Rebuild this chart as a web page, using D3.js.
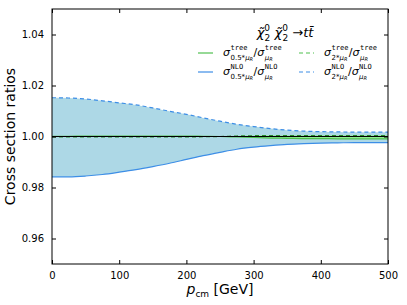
<!DOCTYPE html>
<html>
<head>
<meta charset="utf-8">
<script src="https://cdn.jsdelivr.net/npm/d3@7"></script>
<style>
  body { margin: 0; background: #fff; }
  text { font-family: "DejaVu Sans", sans-serif; }
</style>
</head>
<body>
<script>
// data
let pcm = [0, 25, 50, 75, 100, 125, 150, 175, 200, 225, 250, 275, 300, 325, 350, 375, 400, 425, 450, 475, 500];
let nloHalf = [0.9842, 0.9842, 0.9845, 0.9851, 0.9860, 0.9870, 0.9882, 0.9895, 0.9910, 0.9925, 0.9938, 0.9950, 0.9958, 0.9964, 0.9969, 0.9972, 0.9974, 0.9975, 0.9976, 0.9976, 0.9976];
let nloTwo = [1.0152, 1.0151, 1.0147, 1.0140, 1.0132, 1.0124, 1.0112, 1.0099, 1.0087, 1.0073, 1.0060, 1.0048, 1.0039, 1.0031, 1.0025, 1.0021, 1.0019, 1.0018, 1.0017, 1.0017, 1.0017];
let treeHalf = [1.0001, 1.0001, 1.0002, 1.0002, 1.0002, 1.0002, 1.0002, 1.0002, 1.0002, 1.0001, 1.0000, 0.9998, 0.9996, 0.9994, 0.9993, 0.9992, 0.9992, 0.9991, 0.9991, 0.9991, 0.9991];
let treeTwo = [0.9998, 0.9998, 0.9998, 0.9998, 0.9998, 0.9998, 0.9998, 0.9998, 0.9998, 0.9999, 1.0000, 1.0002, 1.0003, 1.0004, 1.0004, 1.0004, 1.0004, 1.0004, 1.0004, 1.0004, 1.0004];
let xTicks = [0, 100, 200, 300, 400, 500];
let yTicks = [0.96, 0.98, 1.00, 1.02, 1.04];

let W = 407, H = 305;
let margin = {top: 9, right: 19, bottom: 41, left: 52};
let width = W - margin.left - margin.right,
    height = H - margin.top - margin.bottom;

let green = "#4fbf4f", blue = "#3d8ee6";

let x = d3.scaleLinear().domain([0, 500]).range([0, width]);
let y = d3.scaleLinear().domain([0.95, 1.05]).range([height, 0]);

let svg = d3.select("body").append("svg")
  .attr("width", W)
  .attr("height", H)
.append("g")
  .attr("transform", "translate(" + margin.left + "," + margin.top + ")");

let rows = pcm.map((p, i) => ({p: p, lo: nloHalf[i], hi: nloTwo[i], th: treeHalf[i], tt: treeTwo[i]}));

// bands
let nloArea = d3.area().x(d => x(d.p)).y0(d => y(d.lo)).y1(d => y(d.hi)).curve(d3.curveMonotoneX);
let treeArea = d3.area().x(d => x(d.p)).y0(d => y(d.th)).y1(d => y(d.tt)).curve(d3.curveMonotoneX);

svg.append("path").datum(rows).attr("d", nloArea).attr("fill", "#add8e6");
svg.append("path").datum(rows).attr("d", treeArea).attr("fill", "#90ee90");

function line(key) {
  return d3.line().x(d => x(d.p)).y(d => y(d[key])).curve(d3.curveMonotoneX);
}

svg.append("path").datum(rows).attr("d", line("lo"))
  .attr("fill", "none").attr("stroke", blue).attr("stroke-width", 1.2);
svg.append("path").datum(rows).attr("d", line("hi"))
  .attr("fill", "none").attr("stroke", blue).attr("stroke-width", 1.2).attr("stroke-dasharray", "4,3");
svg.append("path").datum(rows).attr("d", line("th"))
  .attr("fill", "none").attr("stroke", green).attr("stroke-width", 1.2);
svg.append("path").datum(rows).attr("d", line("tt"))
  .attr("fill", "none").attr("stroke", "#2a8a2a").attr("stroke-width", 1.2).attr("stroke-dasharray", "4,3");

// reference line at 1
svg.append("line")
  .attr("x1", 0).attr("x2", width)
  .attr("y1", y(1)).attr("y2", y(1))
  .attr("stroke", "#000").attr("stroke-width", 1);

// axes, matplotlib classic style: ticks inward on all sides
function styleAxis(g) {
  g.select(".domain").remove();
  g.selectAll("text").attr("font-size", 10).attr("fill", "#000");
  g.selectAll("line").attr("stroke", "#000");
}

svg.append("g")
  .attr("transform", "translate(0," + height + ")")
  .call(d3.axisBottom(x).tickValues(xTicks).tickSizeInner(-4).tickPadding(8))
  .call(styleAxis);
svg.append("g")
  .call(d3.axisTop(x).tickValues(xTicks).tickSizeInner(-4).tickFormat(""))
  .call(styleAxis);
svg.append("g")
  .call(d3.axisLeft(y).tickValues(yTicks).tickSizeInner(-4).tickPadding(8).tickFormat(d3.format(".2f")))
  .call(styleAxis);
svg.append("g")
  .attr("transform", "translate(" + width + ",0)")
  .call(d3.axisRight(y).tickValues(yTicks).tickSizeInner(-4).tickFormat(""))
  .call(styleAxis);

// frame
svg.append("rect")
  .attr("width", width).attr("height", height)
  .attr("fill", "none").attr("stroke", "#000").attr("stroke-width", 1);

// axis labels
svg.append("text")
  .attr("transform", "translate(" + (-37) + "," + (height / 2) + ") rotate(-90)")
  .attr("text-anchor", "middle")
  .attr("font-size", 14)
  .text("Cross section ratios");

let xl = svg.append("text")
  .attr("x", width / 2)
  .attr("y", height + 30)
  .attr("text-anchor", "middle")
  .attr("font-size", 14);
xl.append("tspan").attr("font-style", "italic").text("p");
xl.append("tspan").attr("font-size", 9).attr("dy", 3).text("cm");
xl.append("tspan").attr("dy", -3).text(" [GeV]");

// legend title
let title = svg.append("text")
  .attr("x", 233)
  .attr("y", 28)
  .attr("text-anchor", "middle")
  .attr("font-size", 13);
title.append("tspan").attr("font-style", "italic").text("χ̃");
title.append("tspan").attr("font-size", 9).attr("dy", -6).text("0");
title.append("tspan").attr("font-size", 9).attr("dx", -5.5).attr("dy", 10).text("2");
title.append("tspan").attr("font-style", "italic").attr("dy", -4).text(" χ̃");
title.append("tspan").attr("font-size", 9).attr("dy", -6).text("0");
title.append("tspan").attr("font-size", 9).attr("dx", -5.5).attr("dy", 10).text("2");
title.append("tspan").attr("dy", -4).text(" →");
title.append("tspan").attr("font-style", "italic").text("tt̄");

// σ^sup_sub / σ^sup_sub  label built from stacked pieces
function sigmaLabel(g, x0, y0, sup, sub1, sub2) {
  let cx = x0;
  function piece(txt, dy, size, family, italic) {
    let t = g.append("text").attr("x", cx).attr("y", y0 + dy)
      .attr("font-size", size).text(txt);
    if (family) t.style("font-family", family);
    if (italic) t.attr("font-style", "italic");
    return t.node().getComputedTextLength();
  }
  function sigma(sub) {
    cx += piece("σ", 0, 11, null, true) + 0.5;
    let w1 = piece(sup, -6, 7, "DejaVu Sans Mono", false);
    let t = g.append("text").attr("x", cx).attr("y", y0 + 3.5).attr("font-size", 7);
    sub.forEach(s => {
      let sp = t.append("tspan").text(s.t);
      if (s.it) sp.attr("font-style", "italic");
      if (s.dy) sp.attr("dy", s.dy).attr("font-size", 5);
    });
    let w2 = t.node().getComputedTextLength();
    cx += Math.max(w1, w2) + 0.5;
  }
  sigma(sub1);
  cx += piece("/", 0, 11, null, false);
  sigma(sub2);
}

let subHalf = [{t: "0.5*"}, {t: "μ", it: true}, {t: "R", it: true, dy: 1}];
let subTwo = [{t: "2*"}, {t: "μ", it: true}, {t: "R", it: true, dy: 1}];
let subMu = [{t: "μ", it: true}, {t: "R", it: true, dy: 1}];

let legend = [
  {col: 0, row: 0, color: green, dash: null, sup: "tree", sub: subHalf},
  {col: 1, row: 0, color: green, dash: "4,3", sup: "tree", sub: subTwo},
  {col: 0, row: 1, color: blue, dash: null, sup: "NLO", sub: subHalf},
  {col: 1, row: 1, color: blue, dash: "4,3", sup: "NLO", sub: subTwo}
];

let lg = svg.append("g");
legend.forEach(d => {
  let lx = 146 + d.col * 101, ly = 44 + d.row * 19;
  lg.append("line")
    .attr("x1", lx).attr("x2", lx + 15)
    .attr("y1", ly).attr("y2", ly)
    .attr("stroke", d.color).attr("stroke-width", 1.2)
    .attr("stroke-dasharray", d.dash);
  sigmaLabel(lg, lx + 25, ly + 3, d.sup, d.sub, subMu);
});
</script>
</body>
</html>
